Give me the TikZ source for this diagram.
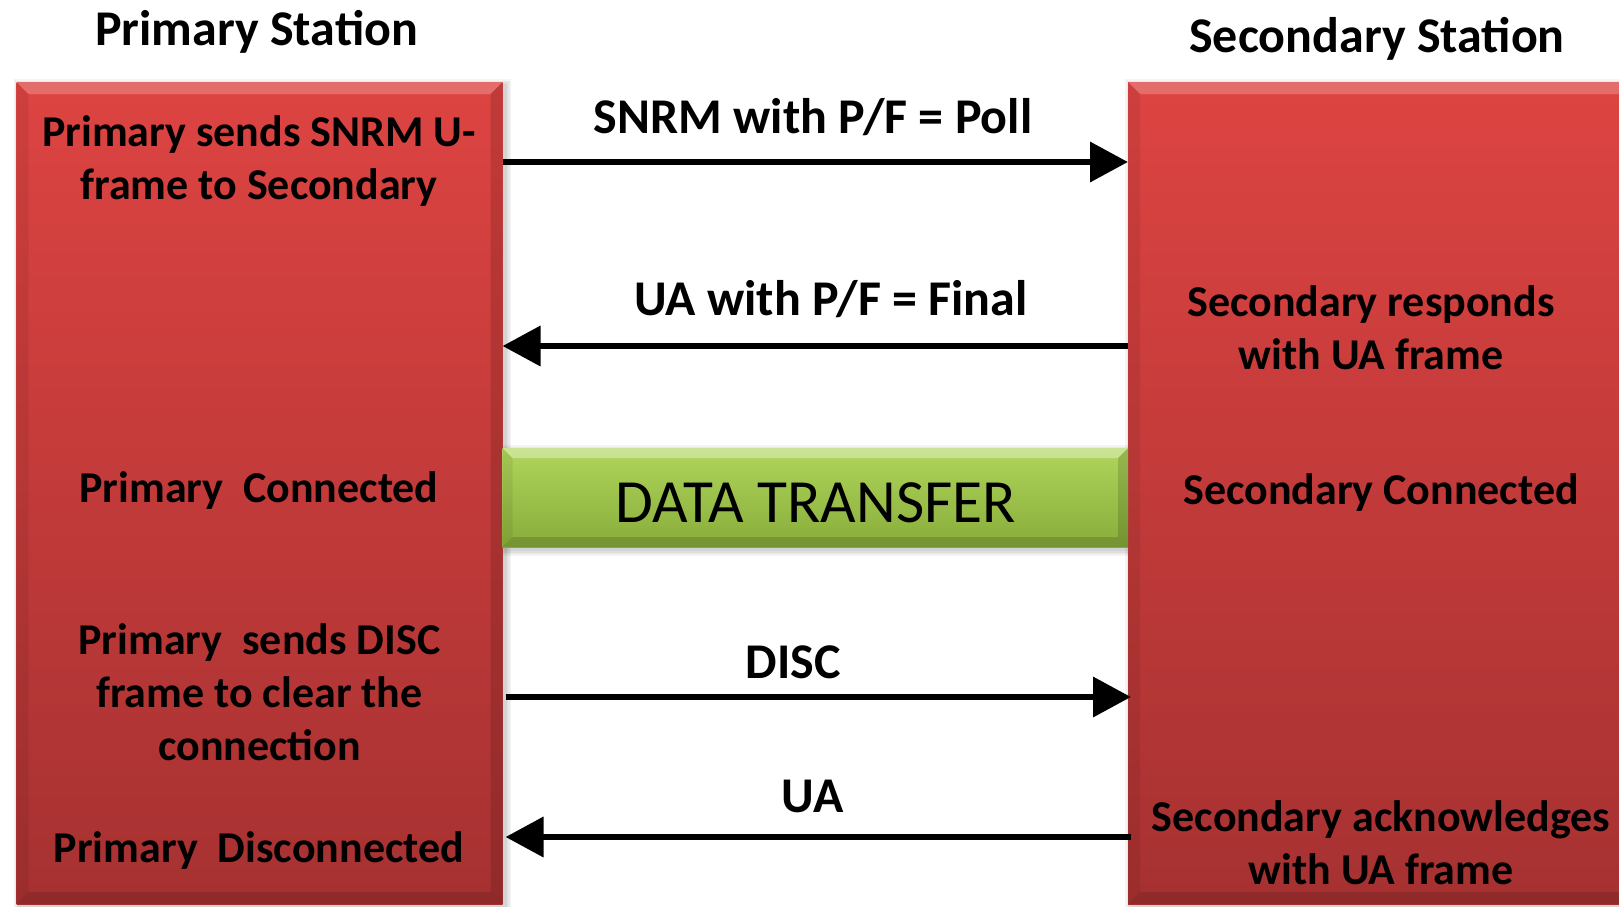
\documentclass[tikz,border=0pt]{standalone}
\usepackage{fontspec}
\setmainfont{Carlito}
\usetikzlibrary{arrows.meta,backgrounds}

\definecolor{redtop}{RGB}{221,68,66}
\definecolor{redbot}{RGB}{166,49,49}
\definecolor{grntop}{RGB}{176,214,92}
\definecolor{grnbot}{RGB}{136,172,58}

% centred multi-line text whose baseline is that of its first line
\newcommand\stackedlines[1]{\begin{tabular}[t]{@{}c@{}}#1\end{tabular}}

\tikzset{
  % bevel: light opacity, dark opacity, bevel size
  bevel/.style n args={3}{path picture={
    \path (path picture bounding box.north west) coordinate (bvA)
          (path picture bounding box.north east) coordinate (bvB)
          (path picture bounding box.south east) coordinate (bvC)
          (path picture bounding box.south west) coordinate (bvD);
    \fill[white,opacity=#1] (bvA) -- (bvB) -- ([shift={(-#3,-#3)}]bvB) -- ([shift={(#3,-#3)}]bvA) -- cycle;
    \fill[black,opacity=#2] (bvB) -- (bvC) -- ([shift={(-#3,#3)}]bvC) -- ([shift={(-#3,-#3)}]bvB) -- cycle;
    \fill[black,opacity=#2] (bvC) -- (bvD) -- ([shift={(#3,#3)}]bvD) -- ([shift={(-#3,#3)}]bvC) -- cycle;
    \fill[black,opacity=#2*0.5] (bvD) -- (bvA) -- ([shift={(#3,-#3)}]bvA) -- ([shift={(#3,#3)}]bvD) -- cycle;
  }},
  station/.style={inner sep=0, anchor=base, font=\bfseries\fontsize{25}{30}\selectfont},
  side/.style={inner sep=0, anchor=base, font=\bfseries\fontsize{22}{26.5}\selectfont},
  msg/.style={inner sep=0, anchor=base, font=\bfseries\fontsize{25}{30}\selectfont},
  flow/.style={line width=3.4pt, -{Triangle[length=19pt,width=19.5pt]}},
  redbox/.style={inner sep=0, outer sep=0, top color=redtop, bottom color=redbot,
    bevel={0.22}{0.13}{6pt}},
  greenbar/.style={inner sep=0, outer sep=0, top color=grntop, bottom color=grnbot,
    bevel={0.35}{0.14}{5pt}},
}

\begin{document}
\begin{tikzpicture}[x=0.5pt,y=-0.5pt]
\useasboundingbox (0,0) rectangle (1619,906);

% station columns and the data-transfer bar
\node[redbox, minimum width=243pt, minimum height=411pt] (L) at (259.5,493) {};
\node[redbox, minimum width=261pt, minimum height=411pt] (R) at (1389,493) {};
\node[greenbar, minimum width=312.75pt, minimum height=49.5pt] (G) at (815.25,497.5) {};

% soft drop shadows and white paper underneath
\begin{scope}[on background layer]
  \fill[white] (0,0) rectangle (1619,906);
  \foreach \n in {L,R,G}{
    \foreach \s in {1,2,3,4}{
      \fill[black,opacity=.045]
        ([shift={({1.5pt-\s*0.7pt},{-1.5pt+\s*0.7pt})}]\n.north west)
        rectangle ([shift={({1.5pt+\s*0.7pt},{-1.5pt-\s*0.7pt})}]\n.south east);
    }
  }
\end{scope}

% headings
\node[station] (hp) at (256.6,45) {Primary Station};
\node[station] (hs) at (1377,52) {Secondary Station};

% primary side
\node[side] (p1) at (259,146) {\stackedlines{Primary sends SNRM U-\\frame to Secondary}};
\node[side] (p2) at (259,502.5) {Primary\ \ Connected};
\node[side] (p3) at (259.5,654) {\stackedlines{Primary\ \ sends DISC\\frame to clear the\\connection}};
\node[side] (p4) at (259,862) {Primary\ \ Disconnected};

% secondary side
\node[side] (s1) at (1371,316.5) {\stackedlines{Secondary responds\\with UA frame}};
\node[side] (s2) at (1381,504.5) {Secondary Connected};
\node[side] (s3) at (1381,831) {\stackedlines{Secondary acknowledges\\with UA frame}};

% data transfer
\node[inner sep=0, anchor=base, font=\fontsize{30.7}{36}\selectfont] (dt) at (815.6,522) {DATA TRANSFER};

% frames exchanged
\node[msg] (m1) at (813,133) {SNRM with P/F = Poll};
\draw[flow] (L.east |- 0,162) -- (R.west |- 0,162);

\node[msg] (m2) at (831,315) {UA with P/F = Final};
\draw[flow] (R.west |- 0,346) -- (L.east |- 0,346);

\node[msg] (m3) at (793,678.5) {DISC};
\draw[flow] ([xshift=1.5pt]L.east |- 0,697) -- ([xshift=1.5pt]R.west |- 0,697);

\node[msg] (m4) at (812.6,812.5) {UA};
\draw[flow] ([xshift=1.5pt]R.west |- 0,837) -- ([xshift=1.5pt]L.east |- 0,837);
\end{tikzpicture}
\end{document}
